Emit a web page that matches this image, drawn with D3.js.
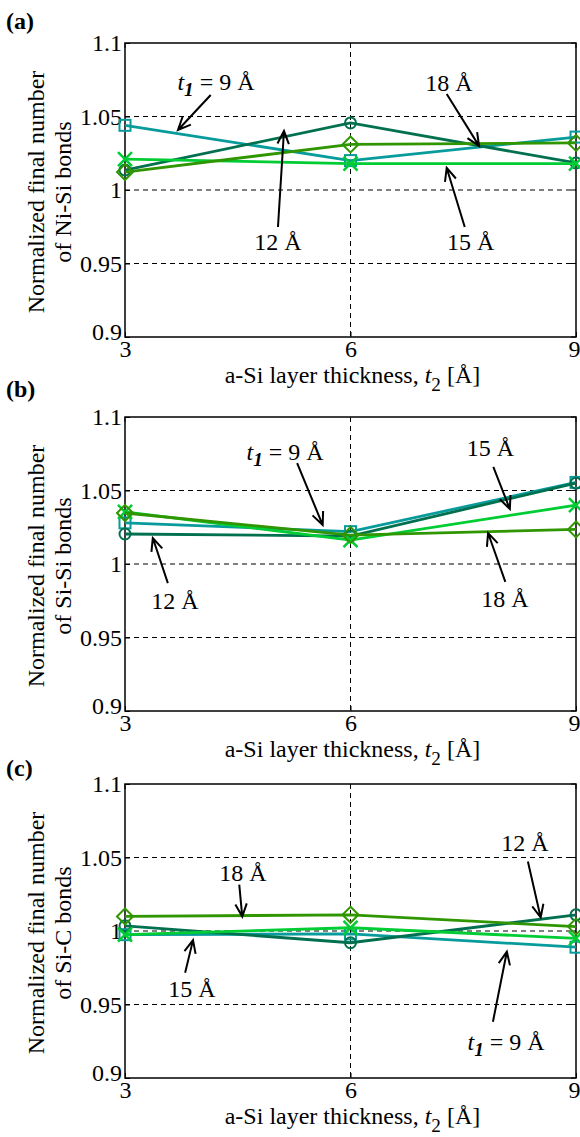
<!DOCTYPE html>
<html>
<head>
<meta charset="utf-8">
<script src="https://cdn.jsdelivr.net/npm/d3@7"></script>
<style>
  body { margin: 0; background: #fff; }
  svg { display: block; }
</style>
</head>
<body>
<div id="chart"></div>
<script>
// t2 values (x) and axis ticks
const thicknessT2 = [3, 6, 9];
const xTicks = [3, 6, 9];
const yTicks = [0.9, 0.95, 1, 1.05, 1.1];
const yTickLabels = ['0.9', '0.95', '1', '1.05', '1.1'];

// series: t1 = 9, 12, 15, 18 Å
const seriesKeys = ['t9', 't12', 't15', 't18'];
const seriesColors = ['#079b9b', '#00704f', '#00cc33', '#2f9600'];
const seriesMarkers = ['square', 'circle', 'cross', 'diamond'];

// (a) Ni-Si
const niSi_t9  = [1.044, 1.020, 1.036];
const niSi_t12 = [1.0136, 1.0456, 1.0184];
const niSi_t15 = [1.021, 1.018, 1.018];
const niSi_t18 = [1.0122, 1.031, 1.032];
// (b) Si-Si
const siSi_t9  = [1.028, 1.022, 1.0555];
const siSi_t12 = [1.0204, 1.019, 1.055];
const siSi_t15 = [1.0354, 1.0163, 1.040];
const siSi_t18 = [1.0347, 1.0197, 1.0235];
// (c) Si-C
const siC_t9  = [0.9975, 0.998, 0.989];
const siC_t12 = [1.0035, 0.992, 1.011];
const siC_t15 = [0.9975, 1.0022, 0.995];
const siC_t18 = [1.0099, 1.011, 1.003];

const panelLetters = ['(a)', '(b)', '(c)'];
const bondNames = ['Ni-Si', 'Si-Si', 'Si-C'];

// annotations in data units: [text, textX, textY, tailX, tailY, tipX, tipY]
const notesA = [
  ['t1', 4.21, 1.068, 4.14, 1.0646, 3.705, 1.0408],
  ['18 Å', 7.31, 1.0673, 7.28, 1.0653, 7.71, 1.030],
  ['12 Å', 5.035, 0.9592, 5.035, 0.9748, 5.115, 1.0401],
  ['15 Å', 7.60, 0.9592, 7.52, 0.9748, 7.28, 1.015]
];
const notesB = [
  ['t1', 5.13, 1.0707, 5.29, 1.0687, 5.63, 1.0265],
  ['15 Å', 7.86, 1.0735, 7.90, 1.066, 8.12, 1.0374],
  ['12 Å', 3.665, 0.9694, 3.57, 0.987, 3.37, 1.0177],
  ['18 Å', 8.055, 0.9707, 8.06, 0.9878, 7.83, 1.0211]
];
const notesC = [
  ['18 Å', 4.57, 1.034, 4.52, 1.0316, 4.56, 1.0098],
  ['12 Å', 8.32, 1.0547, 8.36, 1.0473, 8.53, 1.0092],
  ['15 Å', 3.89, 0.9552, 3.80, 0.9716, 3.905, 0.9938],
  ['t1', 8.07, 0.9191, 7.895, 0.9383, 8.08, 0.9859]
];

const panels = [
  {series: [niSi_t9, niSi_t12, niSi_t15, niSi_t18], notes: notesA},
  {series: [siSi_t9, siSi_t12, siSi_t15, siSi_t18], notes: notesB},
  {series: [siC_t9, siC_t12, siC_t15, siC_t18], notes: notesC}
];

// layout
const W = 580, H = 1137;
const left = 125, right = 576;
const panelTops = [43, 417, 784];
const plotH = 294;
const letterBaselines = [29, 397, 776];
const fs = 24;

const svg = d3.select('#chart').append('svg')
  .attr('width', W).attr('height', H)
  .attr('font-family', '"Liberation Serif", "Times New Roman", serif');

const x = d3.scaleLinear().domain([3, 9]).range([left, right]);

function marker(g, type, color, cx, cy) {
  if (type === 'square') {
    g.append('rect').attr('x', cx - 5.5).attr('y', cy - 5.5).attr('width', 11).attr('height', 11)
      .attr('fill', 'none').attr('stroke', color).attr('stroke-width', 2);
  } else if (type === 'circle') {
    g.append('circle').attr('cx', cx).attr('cy', cy).attr('r', 5.5)
      .attr('fill', 'none').attr('stroke', color).attr('stroke-width', 2);
  } else if (type === 'cross') {
    const s = 7;
    g.append('path').attr('d', `M${cx - s},${cy - s}L${cx + s},${cy + s}M${cx - s},${cy + s}L${cx + s},${cy - s}`)
      .attr('stroke', color).attr('stroke-width', 2.5).attr('fill', 'none');
  } else {
    const s = 8;
    g.append('path').attr('d', `M${cx},${cy - s}L${cx + s},${cy}L${cx},${cy + s}L${cx - s},${cy}Z`)
      .attr('fill', 'none').attr('stroke', color).attr('stroke-width', 2);
  }
}

function arrow(g, x1, y1, x2, y2) {
  const a = Math.atan2(y2 - y1, x2 - x1);
  const len = 14, spread = 0.42;
  const p1 = [x2 - len * Math.cos(a - spread), y2 - len * Math.sin(a - spread)];
  const p2 = [x2 - len * Math.cos(a + spread), y2 - len * Math.sin(a + spread)];
  g.append('path')
    .attr('d', `M${x1},${y1}L${x2},${y2}M${p1[0]},${p1[1]}L${x2},${y2}L${p2[0]},${p2[1]}`)
    .attr('fill', 'none').attr('stroke', '#000').attr('stroke-width', 2);
}

panels.forEach((p, pi) => {
  const top = panelTops[pi];
  const bottom = top + plotH;
  const y = d3.scaleLinear().domain([0.9, 1.1]).range([bottom, top]);
  const g = svg.append('g');

  g.append('text').attr('x', 6).attr('y', letterBaselines[pi])
    .attr('font-size', fs).attr('font-weight', 'bold').text(panelLetters[pi]);

  // grid
  g.selectAll('.hgrid').data([0.95, 1, 1.05]).join('line')
    .attr('x1', left).attr('x2', right)
    .attr('y1', d => y(d)).attr('y2', d => y(d))
    .attr('stroke', '#000').attr('stroke-width', 1).attr('stroke-dasharray', '5,4');
  g.append('line').attr('x1', x(6)).attr('x2', x(6)).attr('y1', top).attr('y2', bottom)
    .attr('stroke', '#000').attr('stroke-width', 1).attr('stroke-dasharray', '5,4');

  // axes
  const yAxis = d3.axisLeft(y).tickValues(yTicks).tickSize(-5).tickPadding(3)
    .tickFormat((d, i) => yTickLabels[i]);
  const ya = g.append('g').attr('transform', `translate(${left},0)`).call(yAxis);
  const xAxis = d3.axisBottom(x).tickValues(xTicks).tickSize(-5).tickPadding(3)
    .tickFormat(d3.format('d'));
  const xa = g.append('g').attr('transform', `translate(0,${bottom})`).call(xAxis);
  [ya, xa].forEach(a => {
    a.attr('font-family', null).attr('font-size', null);
    a.select('.domain').remove();
    a.selectAll('text').attr('font-size', fs).attr('fill', '#000');
    a.selectAll('line').attr('stroke', '#000');
  });
  ya.selectAll('text').attr('dy', '0.32em');
  ya.selectAll('.tick').filter(d => d === 0.9).select('text').attr('dy', '0.12em');
  xa.selectAll('text').attr('dy', '0.72em');
  xa.selectAll('.tick').filter(d => d === 9).select('text').attr('text-anchor', 'end').attr('dx', 4);
  g.selectAll('.rt').data(yTicks).join('line')
    .attr('x1', right).attr('x2', right - 5).attr('y1', d => y(d)).attr('y2', d => y(d)).attr('stroke', '#000');
  g.selectAll('.tt').data(xTicks).join('line')
    .attr('x1', d => x(d)).attr('x2', d => x(d)).attr('y1', top).attr('y2', top + 5).attr('stroke', '#000');

  g.append('rect').attr('x', left).attr('y', top).attr('width', right - left).attr('height', plotH)
    .attr('fill', 'none').attr('stroke', '#000').attr('stroke-width', 1.5);

  // axis titles
  const yt = g.append('text').attr('font-size', fs).attr('text-anchor', 'middle')
    .attr('transform', `translate(44,${top + plotH / 2 + 2}) rotate(-90)`);
  yt.append('tspan').attr('x', 0).attr('y', 0).text('Normalized final number');
  yt.append('tspan').attr('x', 0).attr('y', 27).text(`of ${bondNames[pi]} bonds`);

  const xt = g.append('text').attr('font-size', fs).attr('text-anchor', 'middle')
    .attr('x', (left + right) / 2 + 2).attr('y', bottom + 46);
  xt.append('tspan').text('a-Si layer thickness, ');
  xt.append('tspan').attr('font-style', 'italic').text('t');
  xt.append('tspan').attr('font-size', fs * 0.8).attr('dy', 8).text('2');
  xt.append('tspan').attr('dy', -8).text(' [Å]');

  // series
  const line = d3.line().x((d, i) => x(thicknessT2[i])).y(d => y(d));
  p.series.forEach((vals, si) => {
    const sg = g.append('g').attr('class', 'series-' + seriesKeys[si]);
    sg.append('path').attr('d', line(vals)).attr('fill', 'none')
      .attr('stroke', seriesColors[si]).attr('stroke-width', 2.8);
    vals.forEach((v, i) => marker(sg, seriesMarkers[si], seriesColors[si], x(thicknessT2[i]), y(v)));
  });

  // annotations
  p.notes.forEach(n => {
    const [label, tx, ty, ax1, ay1, ax2, ay2] = n;
    const t = g.append('text').attr('font-size', fs).attr('text-anchor', 'middle')
      .attr('x', x(tx)).attr('y', y(ty));
    if (label === 't1') {
      t.append('tspan').attr('font-style', 'italic').text('t');
      t.append('tspan').attr('font-style', 'italic').attr('font-weight', 'bold').attr('font-size', fs * 0.8).attr('dy', 6).text('1');
      t.append('tspan').attr('dy', -6).text(' = 9 Å');
    } else {
      t.text(label);
    }
    arrow(g, x(ax1), y(ay1), x(ax2), y(ay2));
  });
});
</script>
</body>
</html>
